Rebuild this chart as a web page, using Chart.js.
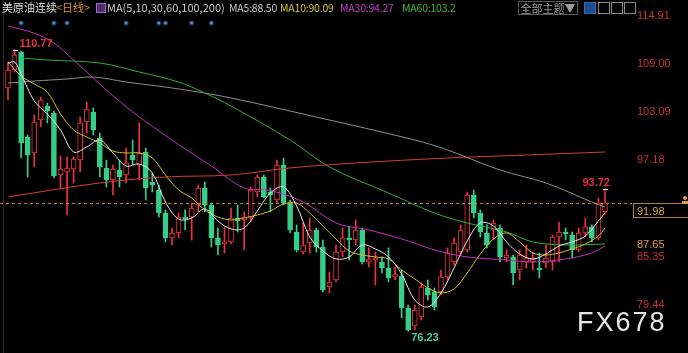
<!DOCTYPE html>
<html>
<head>
<meta charset="utf-8">
<script src="https://cdn.jsdelivr.net/npm/chart.js@4.4.1/dist/chart.umd.min.js"></script>
<style>
  html, body { margin: 0; padding: 0; background: #000; }
  #wrap { position: relative; width: 688px; height: 353px; overflow: hidden; background: #000; font-family: "Noto Sans CJK SC", sans-serif; }
  #wrap canvas { position: absolute; left: 0; top: 0; }
  .t { position: absolute; top: 0; font-size: 11px; line-height: 15px; white-space: nowrap; }
  .m { font-size: 10.5px; letter-spacing: -0.2px; }
  .btn { position: absolute; top: 1px; height: 12px; border: 1px solid #5a5a5a; color: #9a9a9a; font-size: 11px; line-height: 12px; text-align: center; }
  .ic { position: absolute; top: 2px; width: 10px; height: 10px; border: 1px solid #8a8a8a; }
  #wm { position: absolute; left: 577px; top: 309px; font-family: "Liberation Sans", sans-serif; font-size: 27px; line-height: 27px; letter-spacing: 2px; color: #e6e6e6; }
</style>
</head>
<body>
<div id="wrap">
  <canvas id="kline" width="688" height="353"></canvas>
  <span class="t" style="left:2px;color:#dcdcdc">美原油连续</span>
  <span class="t" style="left:56px;color:#d4922c">&lt;日线&gt;</span>
  <span class="ic" style="left:96px;top:3px;width:8px;height:8px;border-color:#8a7ad0;background:#5a2a6a"></span>
  <span class="t" style="left:107px;color:#c8c8c8">MA(5,10,30,60,100,200)</span>
  <span class="t m" style="left:229px;color:#c8c8c8">MA5:88.50</span>
  <span class="t m" style="left:280px;color:#c8c830">MA10:90.09</span>
  <span class="t m" style="left:340px;color:#c040c0">MA30:94.27</span>
  <span class="t m" style="left:402px;color:#3cb83c">MA60:103.2</span>
  <span class="btn" style="left:518px;width:58px">全部主题▼</span>
  <span class="ic" style="left:584px;background:#1e4e8c;border-color:#3a6ab0"></span>
  <span class="ic" style="left:598px"></span>
  <span class="ic" style="left:611px"></span>
  <span class="ic" style="left:624px"></span>
  <div id="wm">FX678</div>
</div>
<script>
  // 일봉 데이터 (시가/고가/저가/종가)
  const opens = [106.07, 108.28, 110.49, 100.06, 98.10, 102.15, 103.86, 103.00, 95.40, 95.77,
    96.13, 97.24, 101.90, 103.13, 99.94, 96.26, 94.79, 96.01, 95.40, 97.85,
    96.62, 98.22, 94.54, 93.56, 90.73, 87.67, 88.28, 90.24, 90.24, 91.72,
    93.80, 91.72, 87.67, 86.93, 87.18, 90.12, 89.88, 90.24, 93.31, 95.15,
    93.31, 92.33, 96.62, 91.96, 88.40, 85.95, 87.05, 88.65, 86.56, 81.65,
    82.51, 85.95, 87.67, 87.42, 88.65, 84.72, 84.97, 84.72, 83.98, 82.88,
    83.00, 79.07, 76.87, 77.97, 81.53, 81.04, 81.04, 82.88, 84.72, 85.95,
    86.20, 92.94, 90.73, 88.28, 88.65, 88.86, 85.21, 85.34, 83.74, 84.72,
    84.72, 83.98, 84.60, 84.72, 87.79, 88.40, 88.03, 86.20, 88.28, 89.02,
    87.67, 90.90];
  const highs = [109.26, 110.77, 110.61, 100.31, 102.76, 104.97, 104.23, 103.25, 97.73, 97.61,
    97.61, 102.51, 104.36, 103.62, 100.55, 97.24, 96.62, 97.24, 98.71, 99.69,
    101.78, 98.71, 95.64, 94.17, 91.11, 88.89, 90.73, 91.11, 91.96, 94.17,
    94.54, 91.96, 88.89, 89.02, 91.35, 91.72, 90.86, 93.92, 95.40, 95.40,
    93.80, 97.24, 97.48, 92.33, 89.27, 89.51, 90.12, 88.89, 87.42, 83.50,
    86.81, 88.89, 89.02, 89.88, 88.89, 86.44, 85.95, 85.34, 86.44, 84.11,
    83.74, 79.45, 79.45, 82.14, 82.51, 81.53, 83.74, 86.44, 87.67, 89.27,
    93.31, 93.56, 91.11, 89.27, 89.88, 89.27, 86.20, 85.58, 86.20, 86.81,
    85.95, 85.83, 86.81, 88.03, 89.63, 88.89, 88.40, 88.89, 90.12, 89.27,
    92.57, 93.72];
  const lows = [104.60, 108.04, 97.48, 95.15, 96.38, 101.29, 101.78, 95.03, 93.80, 90.49,
    94.42, 95.77, 100.55, 100.31, 95.15, 93.92, 92.94, 93.92, 94.42, 96.62,
    94.79, 92.33, 93.31, 90.25, 87.18, 86.81, 87.67, 88.65, 87.42, 90.86,
    90.86, 86.56, 85.58, 85.83, 86.93, 88.40, 86.20, 89.63, 92.70, 92.57,
    90.86, 91.96, 91.72, 88.28, 85.95, 85.70, 85.83, 85.95, 81.04, 80.92,
    82.26, 85.34, 84.97, 86.81, 84.48, 84.11, 81.90, 83.37, 82.26, 82.51,
    77.85, 76.23, 76.38, 77.60, 80.06, 78.83, 80.67, 82.51, 84.35, 85.58,
    85.95, 90.12, 87.79, 86.44, 87.42, 84.72, 84.72, 81.90, 82.51, 83.98,
    83.74, 82.76, 83.98, 83.74, 84.72, 87.42, 85.21, 85.95, 87.79, 87.18,
    87.42, 90.60];
  const closes = [108.28, 110.12, 99.32, 97.85, 101.90, 104.60, 103.25, 95.27, 96.13, 96.26,
    97.36, 101.78, 103.50, 100.92, 96.38, 94.79, 96.13, 95.15, 96.87, 97.24,
    98.10, 93.80, 94.17, 90.73, 87.67, 88.28, 90.24, 90.00, 91.35, 93.80,
    91.72, 87.67, 86.81, 87.18, 90.12, 89.75, 90.24, 93.56, 95.15, 92.70,
    92.94, 96.62, 91.96, 88.65, 86.20, 86.81, 88.65, 86.56, 81.29, 82.26,
    85.95, 87.67, 87.42, 88.65, 84.72, 85.09, 85.21, 83.98, 82.76, 83.25,
    79.07, 76.38, 78.83, 81.65, 80.67, 79.20, 82.88, 85.83, 87.05, 88.65,
    92.94, 90.73, 88.40, 86.81, 89.51, 85.34, 85.58, 83.37, 85.58, 85.21,
    85.09, 83.74, 85.21, 87.79, 88.40, 88.16, 86.20, 88.28, 89.02, 87.67,
    91.96, 91.98];

  // 이동평균선 [봉 인덱스, 값]
  const ma5 = [[0, 109.14], [1, 109.26], [2, 107.79], [4, 104.48], [6, 102.88], [8, 100.92], [10, 98.22], [12, 98.83],
    [14, 99.69], [16, 98.10], [18, 96.50], [20, 96.75], [22, 95.64], [24, 92.08], [26, 89.99], [28, 90.12],
    [30, 91.23], [32, 89.75], [34, 88.77], [36, 88.89], [38, 90.98], [40, 93.19], [42, 93.93], [44, 91.59],
    [46, 87.79], [48, 86.07], [50, 85.09], [52, 85.34], [54, 86.81], [56, 86.32], [58, 85.34], [60, 83.25],
    [62, 80.06], [64, 79.20], [66, 80.92], [68, 83.99], [70, 87.30], [72, 89.51], [74, 89.14], [76, 87.18],
    [78, 85.70], [80, 85.09], [82, 85.70], [84, 86.69], [86, 87.18], [88, 87.91], [90, 89.75], [91, 90.74]];
  const ma10 = [[0, 109.26], [2, 107.54], [4, 106.56], [6, 105.58], [8, 102.88], [10, 100.92], [12, 100.06], [14, 99.32],
    [16, 98.34], [18, 98.10], [20, 98.10], [22, 97.48], [24, 95.40], [26, 93.56], [28, 92.58], [30, 91.10],
    [32, 90.24], [34, 89.88], [36, 90.12], [38, 90.49], [40, 90.98], [42, 91.84], [44, 91.96], [46, 90.73],
    [48, 89.14], [50, 87.54], [52, 86.07], [54, 85.58], [56, 85.34], [58, 85.09], [60, 83.74], [62, 82.64],
    [64, 81.53], [66, 80.92], [68, 81.41], [70, 83.37], [72, 85.70], [74, 87.54], [76, 88.28], [78, 87.18],
    [80, 85.83], [82, 85.58], [84, 85.83], [86, 86.32], [88, 86.93], [90, 87.91], [91, 88.89]];
  const ma30 = [[0, 113.68], [4, 112.8], [7, 111.59], [10, 109.5], [13, 107.3], [15, 105.83], [19, 103.13], [23, 100.8],
    [27, 98.6], [31, 96.5], [36, 93.8], [40, 93.5], [45, 92.08], [50, 89.51], [55, 88.65], [61, 87.3],
    [65, 86.2], [70, 85.34], [76, 84.97], [80, 84.72], [85, 85.09], [89, 85.83], [91, 86.69]];
  const ma60 = [[2, 109.75], [6, 109.51], [14, 109.14], [20, 108.04], [26, 106.81], [30, 105.46], [34, 103.86], [43, 99.69],
    [49, 96.38], [58, 93.19], [65, 90.73], [70, 89.51], [76, 88.40], [80, 87.18], [85, 86.81], [91, 86.93]];
  const ma100 = [[0, 106.69], [4, 106.93], [9, 107.18], [13, 107.42], [18, 106.81], [24, 106.19], [29, 105.58], [34, 104.85],
    [47, 102.51], [62, 99.69], [67, 98.47], [75, 96.01], [82, 94.42], [89, 92.08], [91, 91.47]];
  const ma200 = [[0, 92.70], [14, 94.42], [24, 95.15], [34, 95.40], [43, 96.26], [53, 96.87], [67, 97.48], [79, 97.85], [91, 98.22]];

  const yTicks = [114.91, 109.00, 103.09, 97.18, 85.35, 79.44]; // 오른쪽 가격 라벨
  const lastPrice = 91.98;
  const markPrice = 87.65;
  const eventIdx = [2, 7, 9, 18, 23, 24, 28, 31]; // 상단 파란 점

  const UP = '#f0303c';
  const DOWN = '#35cf8a';
  const idx = closes.map((_, i) => i);
  const isUp = idx.map(i => closes[i] >= opens[i]);

  const maLine = (pts, color, order) => ({
    type: 'line',
    data: pts.map(([x, y]) => ({ x, y })),
    borderColor: color,
    borderWidth: 1,
    pointRadius: 0,
    tension: 0.35,
    fill: false,
    order
  });

  // 커스텀 플러그인: 현재가 점선, 라벨 박스, 최고/최저 표시
  const overlayPlugin = {
    id: 'overlayPlugin',
    afterDatasetsDraw(chart) {
      const { ctx, scales: { x, y } } = chart;
      ctx.save();

      ctx.strokeStyle = '#2c2c2c';
      ctx.lineWidth = 1;
      ctx.beginPath();
      ctx.moveTo(3.5, 0);
      ctx.lineTo(3.5, chart.height);
      ctx.stroke();

      // 이벤트 점
      eventIdx.forEach(i => {
        ctx.fillStyle = '#1d3e66';
        ctx.beginPath();
        ctx.arc(x.getPixelForValue(i), 23, 2.6, 0, Math.PI * 2);
        ctx.fill();
        ctx.fillStyle = '#5a96d8';
        ctx.beginPath();
        ctx.arc(x.getPixelForValue(i), 23, 1.3, 0, Math.PI * 2);
        ctx.fill();
      });

      // 현재가 점선
      const py = Math.round(y.getPixelForValue(lastPrice)) + 0.5;
      ctx.strokeStyle = '#b8893e';
      ctx.setLineDash([3, 3]);
      ctx.beginPath();
      ctx.moveTo(0, py);
      ctx.lineTo(632, py);
      ctx.stroke();
      ctx.setLineDash([]);

      ctx.font = '11px "Liberation Sans", sans-serif';
      ctx.textBaseline = 'middle';
      ctx.textAlign = 'left';
      ctx.fillStyle = '#000';
      ctx.fillRect(633, py, 60, 14);
      ctx.strokeStyle = '#a8843c';
      ctx.strokeRect(633.5, py, 60, 14);
      ctx.fillStyle = '#d8a850';
      ctx.fillText(lastPrice.toFixed(2), 637, py + 8);

      ctx.fillStyle = '#e0a040';
      ctx.beginPath();
      ctx.arc(685, 198, 2, 0, Math.PI * 2);
      ctx.fill();
      ctx.fillRect(682, 201, 6, 3);

      const my = Math.round(y.getPixelForValue(markPrice));
      ctx.fillStyle = '#000';
      ctx.fillRect(633, my + 1, 60, 12);
      ctx.fillStyle = '#e09a40';
      ctx.fillText(markPrice.toFixed(2), 637, my + 7);

      // 최고/최저 라벨
      ctx.font = 'bold 11px "Liberation Sans", sans-serif';
      ctx.fillStyle = '#e8303c';
      ctx.fillText('110.77', x.getPixelForValue(1) + 5, y.getPixelForValue(highs[1]) - 6);
      ctx.textAlign = 'right';
      ctx.fillText('93.72', x.getPixelForValue(91) + 5, y.getPixelForValue(highs[91]) - 6);
      ctx.textAlign = 'left';
      ctx.fillStyle = '#4fcf98';
      ctx.fillText('76.23', x.getPixelForValue(61) + 3, y.getPixelForValue(lows[61]) + 7);

      ctx.strokeStyle = '#e8e8e8';
      [1, 91].forEach(i => {
        const hx = Math.round(x.getPixelForValue(i));
        const hy = Math.round(y.getPixelForValue(highs[i])) + 0.5;
        ctx.beginPath();
        ctx.moveTo(hx - 2, hy);
        ctx.lineTo(hx + 3, hy);
        ctx.stroke();
      });

      ctx.restore();
    }
  };

  new Chart(document.getElementById('kline'), {
    type: 'bar',
    data: {
      datasets: [
        maLine(ma5, '#e4e4e4', 0),
        maLine(ma10, '#d2bd2c', 0),
        maLine(ma30, '#c22fc2', 0),
        maLine(ma60, '#2fae3a', 0),
        maLine(ma100, '#8e8e8e', 0),
        maLine(ma200, '#d83a3a', 0),
        {
          label: 'body',
          data: idx.map(i => ({ x: i, y: [Math.min(opens[i], closes[i]), Math.max(opens[i], closes[i])] })),
          backgroundColor: idx.map(i => isUp[i] ? '#000' : DOWN),
          borderColor: idx.map(i => isUp[i] ? UP : DOWN),
          borderWidth: 1,
          borderSkipped: false,
          barThickness: 5,
          minBarLength: 1,
          grouped: false,
          order: 1
        },
        {
          label: 'wick',
          data: idx.map(i => ({ x: i, y: [lows[i], highs[i]] })),
          backgroundColor: idx.map(i => isUp[i] ? UP : DOWN),
          borderWidth: 0,
          barThickness: 1,
          grouped: false,
          order: 2
        }
      ]
    },
    options: {
      responsive: false,
      animation: false,
      events: [],
      layout: { padding: 0 },
      plugins: { legend: { display: false }, tooltip: { enabled: false } },
      scales: {
        x: {
          type: 'linear',
          min: -1.22,
          max: 92.07,
          offset: false,
          display: false
        },
        y: {
          position: 'right',
          min: 73.55,
          max: 116.874,
          grid: { display: false, drawTicks: false },
          border: { display: false },
          afterBuildTicks: (s) => { s.ticks = yTicks.map(v => ({ value: v })); },
          afterFit: (s) => { s.width = 76; s.paddingTop = 0; s.paddingBottom = 0; },
          ticks: {
            autoSkip: false,
            padding: 25,
            color: '#c8323c',
            font: { size: 11, family: '"Liberation Sans", sans-serif' },
            callback: (v) => Number(v).toFixed(2)
          }
        }
      }
    },
    plugins: [overlayPlugin]
  });
</script>
</body>
</html>
